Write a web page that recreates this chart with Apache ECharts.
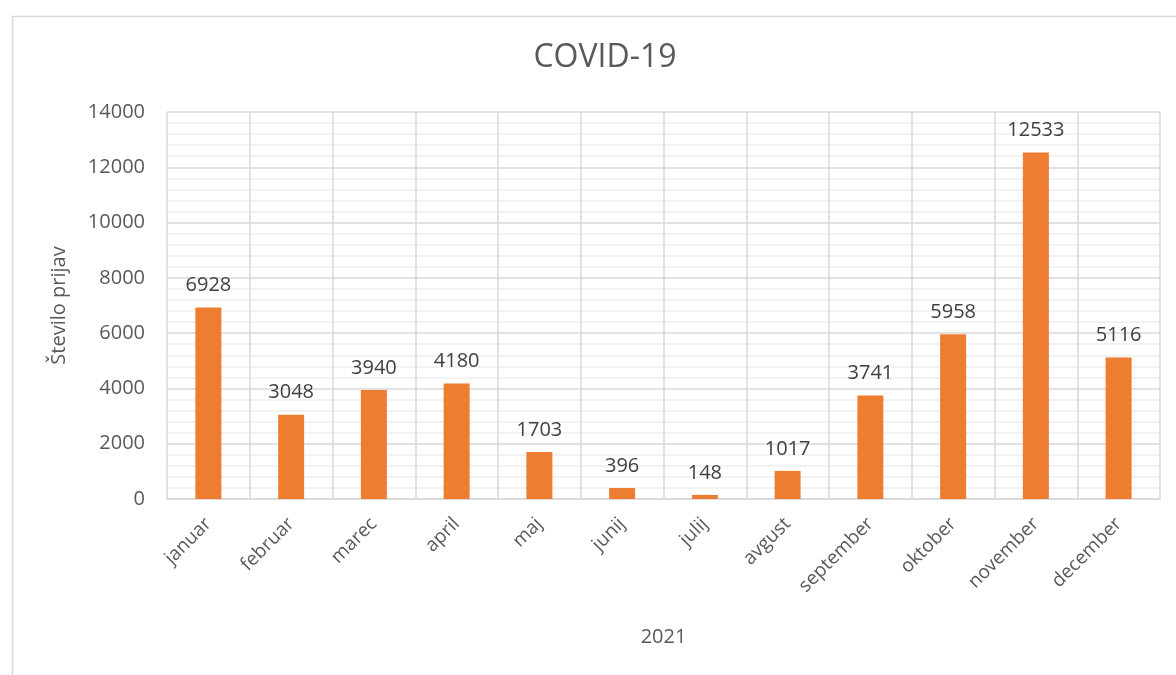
<!DOCTYPE html>
<html lang="sl">
<head>
	<meta charset="UTF-8">
	<title>COVID-19</title>
	<script src="https://cdn.jsdelivr.net/npm/echarts@6/dist/echarts.min.js"></script>
	<style>
		html, body { margin: 0; padding: 0; background: #fff; }
		#chart { width: 1176px; height: 675px; }
	</style>
</head>
<body>
<div id="chart"></div>
<script>
    // podatki
    var months = ['januar', 'februar', 'marec', 'april', 'maj', 'junij', 'julij', 'avgust', 'september', 'oktober', 'november', 'december'];
    var prijave = [6928, 3048, 3940, 4180, 1703, 396, 148, 1017, 3741, 5958, 12533, 5116];
    var yMin = 0, yMax = 14000, yStep = 2000;

    var txt = '#595959';
    var font = '"Open Sans", "Noto Sans", sans-serif';

    var myChart = echarts.init(document.getElementById('chart'));
    var option = {
        animation: false,
        textStyle: { fontFamily: font },
        title: {
            text: 'COVID-19',
            left: 600,
            textAlign: 'center',
            top: 37,
            textStyle: { fontFamily: font, fontSize: 32, fontWeight: 'normal', color: txt }
        },
        graphic: [{
            type: 'rect',
            left: 10, top: 14,
            shape: { width: 1200, height: 700 },
            style: { fill: 'none', stroke: '#D9D9D9', lineWidth: 1.5 },
            silent: true
        }],
        grid: { left: 167, right: 16, top: 112, bottom: 176 },
        xAxis: {
            type: 'category',
            data: months,
            name: '2021',
            nameLocation: 'middle',
            nameGap: 128,
            nameTextStyle: { fontSize: 20, color: txt, fontFamily: font },
            axisLine: { lineStyle: { color: '#D9D9D9', width: 1.5 } },
            axisTick: { show: false },
            splitLine: { show: true, lineStyle: { color: '#D9D9D9', width: 1.5 } },
            axisLabel: { rotate: 45, fontSize: 19, color: txt, margin: 22, fontFamily: font }
        },
        yAxis: {
            type: 'value',
            min: yMin, max: yMax, interval: yStep,
            name: 'Število prijav',
            nameLocation: 'middle',
            nameGap: 98,
            nameTextStyle: { fontSize: 20, color: txt, fontFamily: font },
            axisLine: { show: false },
            axisTick: { show: false },
            axisLabel: {
                fontSize: 20, color: txt, margin: 22, fontFamily: font,
                formatter: function (v) { return String(v); }
            },
            splitLine: { lineStyle: { color: '#D9D9D9', width: 1.5 } },
            minorTick: { show: false, splitNumber: 5 },
            minorSplitLine: { show: true, lineStyle: { color: '#EEEEEE', width: 1.5 } }
        },
        series: [{
            type: 'bar',
            data: prijave,
            barWidth: 26,
            itemStyle: { color: '#ED7D31' },
            label: {
                show: true,
                position: 'top',
                distance: 12,
                fontSize: 20,
                color: '#404040',
                fontFamily: font
            }
        }]
    };
    myChart.setOption(option);
</script>
</body>
</html>
